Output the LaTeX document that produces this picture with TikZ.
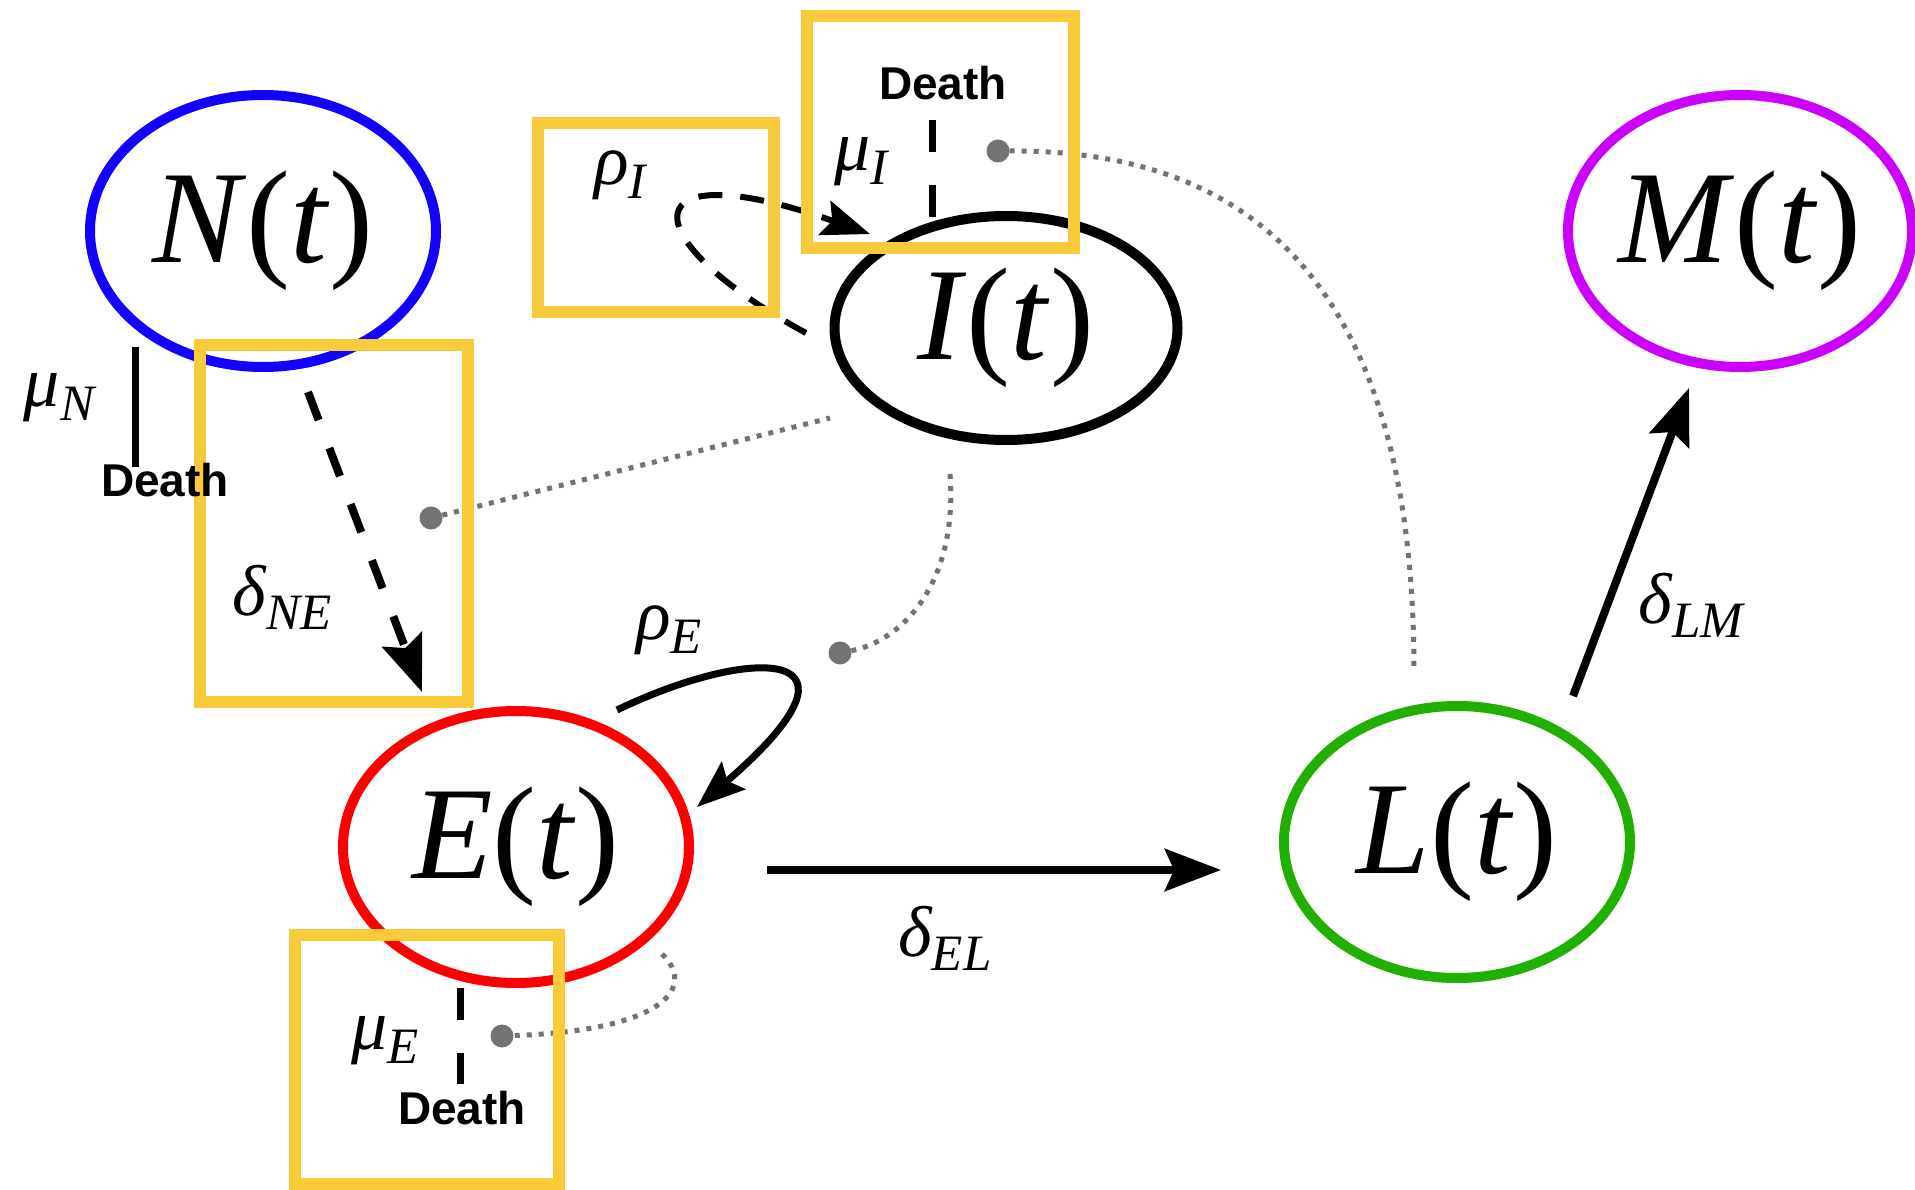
\documentclass[tikz,border=0pt]{standalone}
\usepackage{fontspec}
\setmainfont{Liberation Serif}
\newfontfamily\deathfont{Liberation Sans}
\usetikzlibrary{arrows.meta,shapes.geometric}
\definecolor{cN}{RGB}{20,0,255}
\definecolor{cE}{RGB}{255,0,0}
\definecolor{cL}{RGB}{34,176,0}
\definecolor{cM}{RGB}{204,0,255}
\definecolor{cY}{RGB}{249,203,58}
\definecolor{cG}{RGB}{115,115,115}
\newcommand\glab[2]{\fontsize{72}{72}\selectfont\itshape #1\raisebox{-14pt}{\fontsize{51}{51}\selectfont #2}}
\newcommand\stt[1]{#1\textup{(}t\textup{)}}
\begin{document}
\begin{tikzpicture}[x=1pt,y=-1pt,
  comp/.style={ellipse, draw=#1, line width=10pt, inner sep=0pt, minimum width=346pt, minimum height=272pt, font=\fontsize{132}{132}\selectfont\itshape},
  ybox/.style={draw=cY, line width=12pt},
  flow/.style={line width=8pt, -{Stealth[length=56pt,width=42pt,inset=9pt]}},
  sflow/.style={line width=7pt, -{Stealth[length=48pt,width=36pt,inset=8pt]}},
  dflow/.style={flow, dash pattern=on 30pt off 30pt},
  link/.style={draw=cG, line width=5pt, dash pattern=on 5pt off 7pt},
  gdot/.style={circle, fill=cG, inner sep=0pt, minimum size=23pt},
  glabel/.style={inner sep=0pt},
  dlabel/.style={inner sep=0pt, font=\deathfont\bfseries\fontsize{46}{46}\selectfont},
  dline/.style={line width=7pt, dash pattern=on 32pt off 33pt}]
\useasboundingbox (0,0) rectangle (1915,1190);
\fill[white] (0,0) rectangle (1915,1190);

% compartments
\node[comp=cN] (N) at (263,231) {\stt{N}};
\node[comp=black, minimum width=343pt, minimum height=224pt] (I) at (1006,328) {\stt{I}};
\node[comp=cM, minimum width=336pt] (M) at (1740,231) {\stt{M}};
\node[comp=cE] (E) at (516,847) {\stt{E}};
\node[comp=cL] (L) at (1457,842) {\stt{L}};

% connector end points
\coordinate (ne1) at (308,392);
\coordinate (ne2) at (422,692);
\coordinate (el1) at (767,870);
\coordinate (el2) at (1221,870);
\coordinate (lm1) at (1573,696);
\coordinate (lm2) at (1689,388);
\coordinate (re1) at (617,710);
\coordinate (re2) at (697,807);
\coordinate (ri1) at (806,333);
\coordinate (ri2) at (870,234);
\coordinate (lend) at (1414,672);
\coordinate (iend) at (830,418);
\coordinate (ibot) at (950,474);
\coordinate (eend) at (662,954);

% flows
\draw[dflow] (ne1) -- (ne2);
\draw[flow] (el1) -- (el2);
\draw[flow] (lm1) -- (lm2);
\draw[sflow] (re1) .. controls (752,645) and (885,645) .. (re2);
\draw[sflow, line width=6pt, dash pattern=on 24pt off 18pt] (ri1) .. controls (628,236) and (632,150) .. (ri2);

% grey dots and dotted links
\node[gdot] (d1) at (998,151) {};
\node[gdot] (d2) at (431,518) {};
\node[gdot] (d3) at (840,653) {};
\node[gdot] (d4) at (502,1036) {};
\draw[link] (d1) .. controls (1230,150) and (1414,260) .. (lend);
\draw[link] (d2) -- (iend);
\draw[link] (ibot) .. controls (958,580) and (905,640) .. (d3);
\draw[link] (eend) .. controls (695,985) and (670,1030) .. (d4);

% highlight boxes
\draw[ybox] (538,123) rectangle (774,312);
\draw[ybox] (807,16) rectangle (1074,248);
\draw[ybox] (200,345) rectangle (468,702);
\draw[ybox] (295,935) rectangle (559,1184);

% labels
\node[glabel] (lrI) at (620,175) {\glab{ρ}{I}};
\node[glabel] (lmI) at (861,162) {\glab{μ}{I}};
\node[glabel] (lmN) at (59,398) {\glab{μ}{N}};
\node[glabel] (ldNE) at (282,597) {\glab{δ}{NE}};
\node[glabel] (lrE) at (669,630) {\glab{ρ}{E}};
\node[glabel] (ldEL) at (945,938) {\glab{δ}{EL}};
\node[glabel] (ldLM) at (1691,605) {\glab{δ}{LM}};
\node[glabel] (lmE) at (385,1041) {\glab{μ}{E}};

% deaths
\node[dlabel] (Dt) at (943,83) {Death};
\node[dlabel] (Dl) at (165,480) {Death};
\node[dlabel] (Db) at (462,1108) {Death};
\coordinate (dt1) at (932,120);
\coordinate (dt2) at (932,217);
\coordinate (dl1) at (135,347);
\coordinate (dl2) at (135,467);
\coordinate (db1) at (460,988);
\coordinate (db2) at (460,1084);
\draw[dline] (dt1) -- (dt2);
\draw[line width=7pt] (dl1) -- (dl2);
\draw[dline] (db1) -- (db2);
\end{tikzpicture}
\end{document}
